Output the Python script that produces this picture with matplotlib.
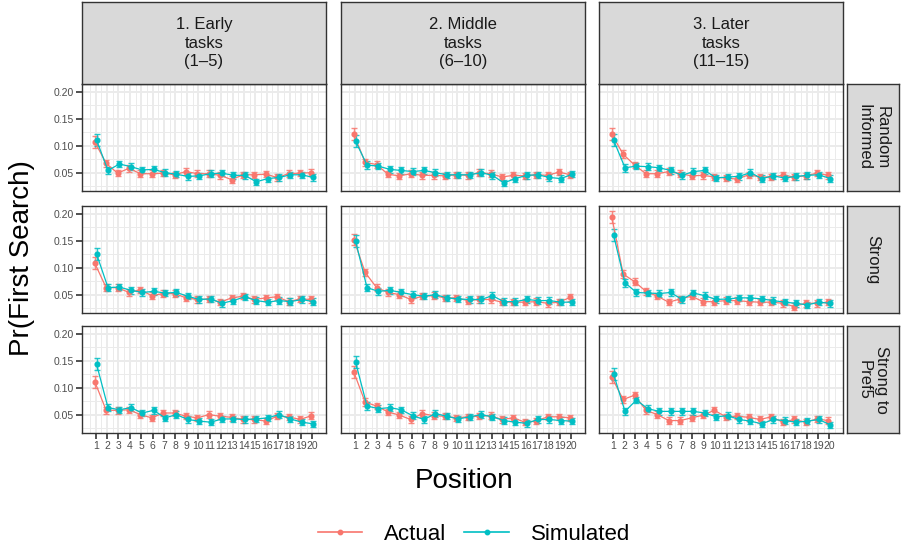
import numpy as np, matplotlib
matplotlib.use("Agg"); import matplotlib.pyplot as plt
from matplotlib.lines import Line2D
plt.rcParams.update({"font.family":["Liberation Sans","DejaVu Sans"]})

pos=list(range(1,21))
col_labels=["1. Early\ntasks\n(1\u20135)","2. Middle\ntasks\n(6\u201310)","3. Later\ntasks\n(11\u201315)"]
row_labels=["Random\nInformed","Strong","Strong to\nPref5"]

# Actual / Simulated first-search probability by position
act_rand_early=[0.107,0.067,0.049,0.058,0.048,0.048,0.049,0.046,0.052,0.048,0.048,0.045,0.037,0.046,0.046,0.047,0.041,0.048,0.049,0.050]
sim_rand_early=[0.110,0.054,0.066,0.061,0.055,0.056,0.050,0.047,0.043,0.044,0.048,0.049,0.045,0.045,0.033,0.039,0.041,0.046,0.046,0.041]
act_rand_mid=[0.121,0.069,0.065,0.047,0.044,0.048,0.045,0.045,0.044,0.046,0.045,0.050,0.048,0.042,0.045,0.044,0.046,0.045,0.051,0.046]
sim_rand_mid=[0.108,0.064,0.062,0.056,0.054,0.052,0.054,0.050,0.046,0.046,0.046,0.050,0.045,0.031,0.039,0.045,0.046,0.041,0.039,0.047]
act_rand_late=[0.121,0.084,0.064,0.048,0.048,0.052,0.048,0.044,0.045,0.042,0.040,0.038,0.046,0.042,0.042,0.045,0.042,0.044,0.049,0.045]
sim_rand_late=[0.110,0.059,0.062,0.061,0.059,0.054,0.045,0.052,0.054,0.040,0.042,0.043,0.050,0.039,0.044,0.040,0.043,0.045,0.046,0.039]

act_str_early=[0.108,0.063,0.063,0.054,0.059,0.048,0.052,0.052,0.044,0.041,0.042,0.036,0.044,0.047,0.041,0.044,0.046,0.037,0.042,0.041]
sim_str_early=[0.125,0.063,0.064,0.058,0.054,0.056,0.053,0.054,0.047,0.041,0.042,0.034,0.039,0.046,0.039,0.036,0.039,0.037,0.041,0.037]
act_str_mid=[0.152,0.091,0.063,0.054,0.050,0.041,0.047,0.048,0.044,0.044,0.039,0.041,0.041,0.036,0.036,0.036,0.037,0.034,0.036,0.045]
sim_str_mid=[0.149,0.063,0.056,0.058,0.054,0.050,0.047,0.050,0.044,0.042,0.041,0.041,0.048,0.037,0.037,0.041,0.039,0.039,0.036,0.036]
act_str_late=[0.194,0.088,0.074,0.056,0.047,0.036,0.042,0.047,0.037,0.037,0.039,0.039,0.037,0.036,0.036,0.034,0.028,0.034,0.034,0.036]
sim_str_late=[0.160,0.072,0.054,0.053,0.052,0.054,0.041,0.053,0.048,0.041,0.042,0.044,0.044,0.042,0.039,0.036,0.034,0.031,0.036,0.034]

act_pref_early=[0.111,0.058,0.058,0.059,0.050,0.044,0.053,0.053,0.047,0.044,0.050,0.047,0.045,0.041,0.041,0.038,0.047,0.046,0.041,0.048]
sim_pref_early=[0.143,0.063,0.059,0.063,0.053,0.058,0.044,0.050,0.041,0.038,0.036,0.042,0.042,0.041,0.042,0.044,0.050,0.042,0.036,0.033]
act_pref_mid=[0.129,0.073,0.066,0.055,0.049,0.041,0.052,0.048,0.047,0.044,0.046,0.047,0.048,0.041,0.044,0.036,0.038,0.046,0.046,0.044]
sim_pref_mid=[0.147,0.066,0.061,0.063,0.059,0.048,0.041,0.052,0.047,0.042,0.046,0.050,0.046,0.039,0.036,0.034,0.041,0.041,0.039,0.038]
act_pref_late=[0.119,0.078,0.086,0.058,0.050,0.039,0.039,0.044,0.049,0.058,0.046,0.047,0.045,0.041,0.046,0.036,0.041,0.036,0.042,0.039]
sim_pref_late=[0.125,0.056,0.077,0.061,0.056,0.056,0.056,0.056,0.053,0.046,0.048,0.041,0.038,0.033,0.041,0.039,0.036,0.038,0.041,0.031]

# standard errors (approx., per position)
se_act=[0.011,0.007,0.006,0.006,0.006,0.006,0.006,0.006,0.006,0.006,0.006,0.006,0.006,0.006,0.006,0.006,0.006,0.006,0.006,0.006]
se_sim=[0.011,0.007,0.006,0.006,0.006,0.006,0.006,0.006,0.006,0.006,0.006,0.006,0.006,0.006,0.006,0.006,0.006,0.006,0.006,0.006]

grid=[[(act_rand_early,sim_rand_early),(act_rand_mid,sim_rand_mid),(act_rand_late,sim_rand_late)],
      [(act_str_early,sim_str_early),(act_str_mid,sim_str_mid),(act_str_late,sim_str_late)],
      [(act_pref_early,sim_pref_early),(act_pref_mid,sim_pref_mid),(act_pref_late,sim_pref_late)]]

RED="#F8766D"; TEAL="#00BFC4"; DARK="#333333"; STRIP="#D9D9D9"; GRID="#EBEBEB"
W,H=901,546
fig=plt.figure(figsize=(W/100,H/100),dpi=100)
def box(x0,y0,x1,y1): return [x0/W,1-y1/H,(x1-x0)/W,(y1-y0)/H]

cols=[(82,326),(341,585),(599,843)]
rows=[(84,191),(206,313),(326,433)]
x=np.array(pos)
for i,(ry0,ry1) in enumerate(rows):
    for j,(cx0,cx1) in enumerate(cols):
        ax=fig.add_axes(box(cx0,ry0,cx1,ry1))
        a,s=grid[i][j]
        for vals,se,c,dx in [(a,se_act,RED,-0.08),(s,se_sim,TEAL,0.08)]:
            ax.errorbar(x+dx,vals,yerr=se,fmt="none",ecolor=c,elinewidth=1.0,capsize=2.4,capthick=1.0,alpha=0.85,zorder=3)
            ax.plot(x+dx,vals,"-o",color=c,lw=0.9,ms=3.4,zorder=4)
        ax.set_xlim(-0.2,21.2); ax.set_ylim(0.016,0.214)
        ax.set_xticks(pos); ax.set_xticks(np.arange(0.5,21,1),minor=True)
        ax.set_yticks([0.05,0.10,0.15,0.20]); ax.set_yticks([0.025,0.075,0.125,0.175],minor=True)
        ax.grid(True,which="major",color=GRID,lw=1.4,zorder=0)
        ax.grid(True,which="minor",color=GRID,lw=0.7,zorder=0)
        ax.set_axisbelow(True)
        for sp in ax.spines.values(): sp.set_color(DARK); sp.set_linewidth(1.0)
        ax.tick_params(which="minor",length=0)
        ax.tick_params(which="major",length=4,width=1.2,color=DARK,labelsize=7.5,labelcolor="#4D4D4D",pad=2)
        if j==0: ax.set_yticklabels(["0.05","0.10","0.15","0.20"])
        else: ax.tick_params(axis="y",left=False,labelleft=False)
        if i<2: ax.tick_params(axis="x",bottom=False,labelbottom=False)
        else: ax.set_xticklabels([str(p) for p in pos])

# top strips
for j,(cx0,cx1) in enumerate(cols):
    sa=fig.add_axes(box(cx0,2,cx1,84)); sa.set_xticks([]); sa.set_yticks([])
    sa.set_facecolor(STRIP)
    for sp in sa.spines.values(): sp.set_color(DARK); sp.set_linewidth(1.0)
    sa.text(0.5,0.5,col_labels[j],ha="center",va="center",fontsize=12,color="#1A1A1A",linespacing=1.3,transform=sa.transAxes)
# right strips
for i,(ry0,ry1) in enumerate(rows):
    sa=fig.add_axes(box(847,ry0,899,ry1)); sa.set_xticks([]); sa.set_yticks([])
    sa.set_facecolor(STRIP)
    for sp in sa.spines.values(): sp.set_color(DARK); sp.set_linewidth(1.0)
    sa.text(0.5,0.5,row_labels[i],ha="center",va="center",rotation=-90,fontsize=12,color="#1A1A1A",linespacing=1.2,transform=sa.transAxes)

fig.text(22/W,1-258/H,"Pr(First Search)",rotation=90,ha="center",va="center",fontsize=20)
fig.text(464/W,1-481/H,"Position",ha="center",va="center",fontsize=20)
hd=[Line2D([],[],color=RED,marker="o",ms=3.2,lw=1.2),Line2D([],[],color=TEAL,marker="o",ms=3.2,lw=1.2)]
fig.legend(hd,["Actual","Simulated"],loc="center",bbox_to_anchor=(474/W,1-534/H),ncol=2,frameon=False,
           fontsize=16,handlelength=2.0,columnspacing=0.8,handletextpad=1.0)
fig.savefig("out.png",dpi=100)
